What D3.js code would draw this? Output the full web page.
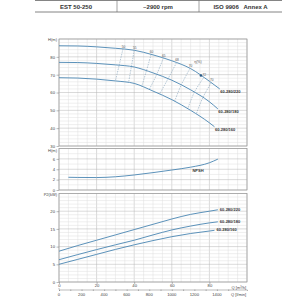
<!DOCTYPE html>
<html>
<head>
<meta charset="utf-8">
<script src="https://cdn.jsdelivr.net/npm/d3@7"></script>
<style>
  body { margin: 0; background: #fff; }
  svg { display: block; font-family: "Liberation Sans", Arial, sans-serif; }
</style>
</head>
<body>
<div id="root"></div>
<script>
// header cells
const headerCells = ['EST 50-250', '~2900 rpm', 'ISO 9906   Annex A'];
const curveNames = ['60-280/220', '60-280/180', '60-280/160'];

// H(Q) curves, Q in m3/h
const hQ = [
  [0, 10, 20, 30, 40, 50, 60, 70, 80, 85.5],
  [0, 10, 20, 30, 40, 50, 60, 70, 80, 84.5],
  [0, 10, 20, 30, 40, 50, 60, 70, 80, 82.7]
];
const hVals = [
  [86.2, 86.1, 85.6, 84.8, 83.7, 81.1, 77.8, 73.4, 66.3, 62.0],
  [76.9, 76.8, 76.3, 75.5, 74.3, 71.0, 66.9, 61.5, 54.8, 50.8],
  [68.3, 68.1, 67.5, 66.5, 65.1, 60.8, 56.0, 50.0, 43.0, 40.8]
];

// iso-efficiency lines: Q where they cross each H curve
const effLabels = ['50', '55', '60', '65', '68', '70', '72', '70'];
const effQTop = [34, 40, 49, 55.5, 62.5, 69.7, 77, 81];
const effQMid = [32, 38.5, 46.5, 52, 58, 65, 72, 76.5];
const effQBot = [30, 37, 44, 48, 53.5, 61.5, 68.5, 73];
const bepQ = 75.5;

// NPSH
const npshQ = [5, 10, 20, 30, 40, 50, 60, 70, 80, 84.5];
const npshVals = [2.45, 2.42, 2.4, 2.55, 2.9, 3.35, 3.85, 4.4, 5.25, 5.95];

// P2(Q)
const pQ = [
  [0, 10, 20, 30, 40, 50, 60, 70, 80, 84.5],
  [0, 10, 20, 30, 40, 50, 60, 70, 80, 84.5],
  [0, 10, 20, 30, 40, 50, 60, 70, 80, 82.7]
];
const pVals = [
  [8.7, 10.3, 11.8, 13.3, 14.8, 16.3, 17.8, 19.1, 20.0, 20.4],
  [6.3, 7.75, 9.15, 10.5, 11.8, 13.3, 14.7, 15.8, 16.7, 17.0],
  [5.0, 6.4, 7.8, 9.2, 10.5, 11.7, 12.8, 13.7, 14.4, 14.6]
];

const hTicks = [30, 40, 50, 60, 70, 80];
const npshTicks = [0, 2, 4, 6];
const pTicks = [0, 5, 10, 15, 20];
const qTicks = [0, 20, 40, 60, 80];
const lminTicks = [0, 200, 400, 600, 800, 1000, 1200, 1400];

const W = 300, H = 300;
const blue = '#4a86b2';
const minorCol = '#dedede', majorCol = '#b4b4b4', frameCol = '#9a9a9a', txt = '#444';

const svg = d3.select('#root').append('svg').attr('width', W).attr('height', H);

// header
const colEdges = [35, 117, 199, 282];
svg.append('line').attr('x1', 35).attr('x2', 282).attr('y1', 0.5).attr('y2', 0.5)
  .attr('stroke', '#666').attr('stroke-width', 0.8);
svg.append('line').attr('x1', 35).attr('x2', 282).attr('y1', 12).attr('y2', 12)
  .attr('stroke', '#666').attr('stroke-width', 0.8);
[117, 199].forEach(x => {
  svg.append('line').attr('x1', x).attr('x2', x).attr('y1', 0.5).attr('y2', 12)
    .attr('stroke', '#666').attr('stroke-width', 0.6);
});
headerCells.forEach((t, i) => {
  svg.append('text').attr('x', (colEdges[i] + colEdges[i + 1]) / 2).attr('y', 8.5)
    .attr('text-anchor', 'middle').attr('font-size', 6).attr('font-weight', 'bold')
    .attr('fill', '#333').attr('xml:space', 'preserve').text(t);
});

const x = d3.scaleLinear().domain([0, 100]).range([59, 247]);
const xl = d3.scaleLinear().domain([0, 100 * 1000 / 60]).range([59, 247]);
const yH = d3.scaleLinear().domain([30, 90]).range([146, 39]);
const yN = d3.scaleLinear().domain([0, 8]).range([190, 148.5]);
const yP = d3.scaleLinear().domain([0, 25]).range([282, 193.5]);

function panel(y, minorStep, majorStep, ticks, title, titleDy) {
  const g = svg.append('g');
  const [d0, d1] = y.domain();
  const vMinor = d3.range(0, 100.01, 5);
  g.selectAll('.vm').data(vMinor).join('line')
    .attr('x1', d => x(d)).attr('x2', d => x(d))
    .attr('y1', y(d0)).attr('y2', y(d1))
    .attr('stroke', d => d % 20 === 0 ? majorCol : minorCol).attr('stroke-width', 0.5);
  const hMinor = d3.range(d0, d1 + 0.001, minorStep);
  g.selectAll('.hm').data(hMinor).join('line')
    .attr('x1', x(0)).attr('x2', x(100))
    .attr('y1', d => y(d)).attr('y2', d => y(d))
    .attr('stroke', d => Math.abs(d % majorStep) < 1e-6 ? majorCol : minorCol).attr('stroke-width', 0.5);
  g.append('rect').attr('x', x(0)).attr('y', y(d1))
    .attr('width', x(100) - x(0)).attr('height', y(d0) - y(d1))
    .attr('fill', 'none').attr('stroke', frameCol).attr('stroke-width', 0.7);
  const ax = g.append('g').attr('transform', `translate(${x(0)},0)`)
    .call(d3.axisLeft(y).tickValues(ticks).tickSize(2.5).tickPadding(1.5));
  ax.select('.domain').remove();
  ax.selectAll('line').attr('stroke', '#777').attr('stroke-width', 0.5);
  ax.selectAll('text').attr('font-size', 4.2).attr('fill', txt).attr('font-family', null);
  g.append('text').attr('x', x(0) - 2).attr('y', y(d1) + titleDy)
    .attr('text-anchor', 'end').attr('font-size', 4).attr('fill', txt).text(title);
  return g;
}

panel(yH, 2, 10, hTicks, 'H(m)', 2);
panel(yN, 1, 2, npshTicks, 'H(m)', 3.8);
panel(yP, 1, 5, pTicks, 'P2(kW)', 2.5);

// interpolate a curve value at q (used to place iso-efficiency points)
function at(qs, vs, q) {
  const i = Math.max(1, Math.min(qs.length - 1, d3.bisectLeft(qs, q)));
  const t = (q - qs[i - 1]) / (qs[i] - qs[i - 1]);
  return vs[i - 1] + t * (vs[i] - vs[i - 1]);
}

const line = (ys) => d3.line().x(d => x(d[0])).y(d => ys(d[1])).curve(d3.curveMonotoneX);

// H curves
hQ.forEach((qs, k) => {
  const pts = qs.map((q, i) => [q, hVals[k][i]]);
  svg.append('path').datum(pts).attr('d', line(yH))
    .attr('fill', 'none').attr('stroke', blue).attr('stroke-width', 0.9);
  const last = pts[pts.length - 1];
  svg.append('text').attr('x', x(last[0]) + 0.5).attr('y', yH(last[1]) + 4.5)
    .attr('font-size', 4).attr('font-weight', 'bold').attr('fill', '#333').text(curveNames[k]);
});

// iso-efficiency dashed lines
effLabels.forEach((lab, i) => {
  const pts = [
    [effQTop[i], at(hQ[0], hVals[0], effQTop[i])],
    [effQMid[i], at(hQ[1], hVals[1], effQMid[i])],
    [effQBot[i], at(hQ[2], hVals[2], effQBot[i])]
  ];
  svg.append('path').datum(pts)
    .attr('d', d3.line().x(d => x(d[0])).y(d => yH(d[1])).curve(d3.curveCatmullRom))
    .attr('fill', 'none').attr('stroke', '#7194b0').attr('stroke-width', 0.5)
    .attr('stroke-dasharray', '1.5,1');
  svg.append('text').attr('x', x(pts[0][0]) + 0.5).attr('y', yH(pts[0][1]) - 1.5)
    .attr('text-anchor', 'middle').attr('font-size', 3.2).attr('fill', '#555').text(lab);
});
svg.append('text').attr('x', x(bepQ) - 3).attr('y', yH(at(hQ[0], hVals[0], bepQ)) - 13)
  .attr('text-anchor', 'middle').attr('font-size', 3.6).attr('fill', '#555').text('η(%)');
svg.append('circle').attr('cx', x(bepQ)).attr('cy', yH(at(hQ[0], hVals[0], bepQ)))
  .attr('r', 1.3).attr('fill', '#2a5a86');

// NPSH
svg.append('path').datum(npshQ.map((q, i) => [q, npshVals[i]])).attr('d', line(yN))
  .attr('fill', 'none').attr('stroke', blue).attr('stroke-width', 0.9);
svg.append('text').attr('x', x(71)).attr('y', yN(3.5))
  .attr('font-size', 4).attr('font-weight', 'bold').attr('fill', '#333').text('NPSH');

// P2 curves
pQ.forEach((qs, k) => {
  const pts = qs.map((q, i) => [q, pVals[k][i]]);
  svg.append('path').datum(pts).attr('d', line(yP))
    .attr('fill', 'none').attr('stroke', blue).attr('stroke-width', 0.9);
  const last = pts[pts.length - 1];
  svg.append('text').attr('x', x(last[0]) + 2).attr('y', yP(last[1]) + 1)
    .attr('font-size', 4).attr('font-weight', 'bold').attr('fill', '#333').text(curveNames[k]);
});

// bottom axes: m3/h then l/min
const axQ = svg.append('g').attr('transform', `translate(0,${yP(0)})`)
  .call(d3.axisBottom(x).tickValues(qTicks).tickSize(2).tickPadding(0.5));
axQ.select('.domain').remove();
axQ.selectAll('line').attr('stroke', '#777').attr('stroke-width', 0.5);
axQ.selectAll('text').attr('font-size', 4.2).attr('fill', txt).attr('font-family', null);
svg.append('text').attr('x', x(100) - 1).attr('y', yP(0) + 6.5)
  .attr('text-anchor', 'end').attr('font-size', 4).attr('fill', txt).text('Q [m³/h]');

const lY = 289.5;
const axL = svg.append('g').attr('transform', `translate(0,${lY})`)
  .call(d3.axisBottom(xl).tickValues(d3.range(0, 1501, 100)).tickSize(1.5).tickFormat(''));
axL.select('.domain').attr('stroke', '#777').attr('stroke-width', 0.5);
axL.selectAll('line').attr('stroke', '#777').attr('stroke-width', 0.5);
svg.append('line').attr('x1', x(0)).attr('x2', x(0)).attr('y1', lY - 1.5).attr('y2', lY)
  .attr('stroke', '#777').attr('stroke-width', 0.5);
svg.append('g').selectAll('text').data(lminTicks).join('text')
  .attr('x', d => xl(d)).attr('y', lY + 6).attr('text-anchor', 'middle')
  .attr('font-size', 4.2).attr('fill', txt).text(d => d);
svg.append('text').attr('x', x(100) - 1).attr('y', lY + 6)
  .attr('text-anchor', 'end').attr('font-size', 4).attr('fill', txt).text('Q [l/min]');
</script>
</body>
</html>
